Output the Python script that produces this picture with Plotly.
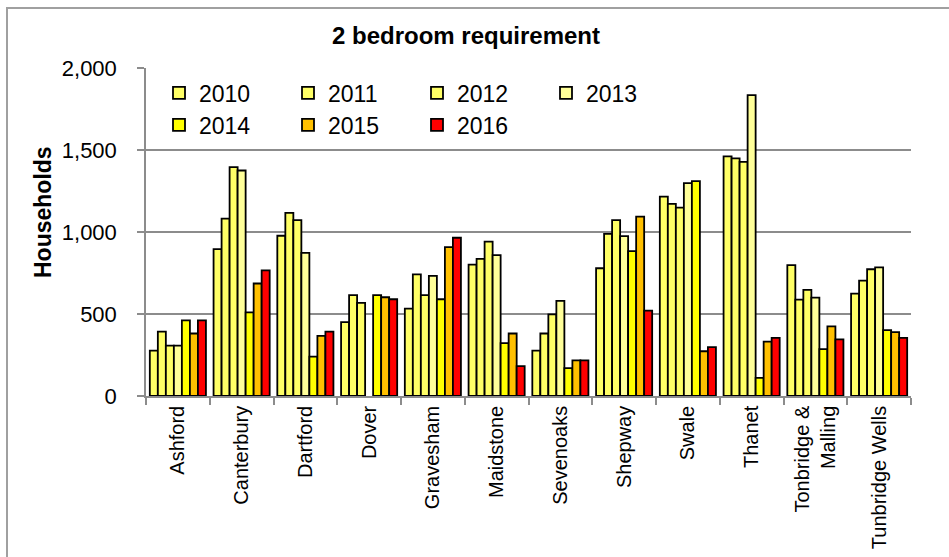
import plotly.graph_objects as go

districts = ["Ashford", "Canterbury", "Dartford", "Dover", "Gravesham", "Maidstone",
             "Sevenoaks", "Shepway", "Swale", "Thanet", "Tonbridge &<br>Malling",
             "Tunbridge Wells"]

y2010 = [277, 895, 977, 451, 533, 801, 277, 779, 1216, 1461, 798, 624]
y2011 = [393, 1082, 1117, 615, 742, 836, 381, 988, 1171, 1449, 588, 704]
y2012 = [307, 1395, 1072, 568, 615, 941, 498, 1072, 1149, 1427, 647, 773]
y2013 = [307, 1375, 873, None, 732, 859, 580, 975, 1298, 1835, 600, 784]
y2014 = [461, 510, 240, 615, 590, 322, 170, 883, 1310, 110, 286, 402]
y2015 = [381, 686, 367, 602, 908, 381, 217, 1094, 273, 331, 424, 390]
y2016 = [461, 766, 393, 590, 965, 182, 217, 520, 298, 355, 345, 355]

years = ["2010", "2011", "2012", "2013", "2014", "2015", "2016"]
series = [y2010, y2011, y2012, y2013, y2014, y2015, y2016]
colors = ["#FFFF66", "#FFFF66", "#FFFF66", "#FFFF99", "#FFFF00", "#FFC000", "#FF0000"]

FONT = "Liberation Sans, Arial, sans-serif"
GRID = "#8c8c8c"

fig = go.Figure()
for i, (yr, vals, col) in enumerate(zip(years, series, colors)):
    fig.add_trace(go.Bar(
        x=districts, y=vals, name=yr,
        marker=dict(color=col, line=dict(color="black", width=1.8)),
        legend="legend" if i < 4 else "legend2",
    ))

L, R, T, B = 146, 38, 68, 161
W, H = 949, 557
pw, ph = W - L - R, H - T - B

def px_x(x):
    return (x - L) / pw

def px_y(y):
    return (H - B - y) / ph

legend_common = dict(
    orientation="h", xanchor="left", yanchor="middle",
    font=dict(family=FONT, size=23, color="black"),
    bgcolor="rgba(0,0,0,0)", entrywidth=84, traceorder="normal",
    itemclick=False,
)

fig.update_layout(
    width=W, height=H,
    margin=dict(l=L, r=R, t=T, b=B),
    paper_bgcolor="white", plot_bgcolor="white",
    barmode="group", bargap=0.12, bargroupgap=0,
    font=dict(family=FONT, color="black"),
    title=dict(text="<b>2 bedroom requirement</b>", x=466 / W, xref="container",
               xanchor="center", y=1 - 36 / H, yref="container", yanchor="middle",
               font=dict(family=FONT, size=24, color="black")),
    legend=dict(x=px_x(159), y=px_y(93), **legend_common),
    legend2=dict(x=px_x(159), y=px_y(125), **legend_common),
    xaxis=dict(
        type="category", showline=True, linecolor=GRID, linewidth=1.5,
        ticks="outside", tickson="boundaries", ticklen=7, tickcolor=GRID,
        tickwidth=1.5, tickangle=-90, automargin=False,
        tickfont=dict(family=FONT, size=20, color="black"),
        showgrid=False,
    ),
    yaxis=dict(
        range=[0, 2000], dtick=500, tickformat=",", automargin=False,
        showline=True, linecolor=GRID, linewidth=1.5,
        ticks="outside", ticklen=7, tickcolor=GRID, tickwidth=1.5,
        showgrid=True, gridcolor=GRID, gridwidth=1.5,
        tickfont=dict(family=FONT, size=22, color="black"),
        ticklabelstandoff=16, zeroline=False,
    ),
    shapes=[dict(type="rect", xref="paper", yref="paper",
                 x0=px_x(7), x1=px_x(965), y0=px_y(575), y1=px_y(8),
                 line=dict(color="#a0a0a0", width=2), fillcolor="rgba(0,0,0,0)",
                 layer="below")],
    annotations=[dict(text="<b>Households</b>", textangle=-90, xref="paper", yref="paper",
                      x=px_x(43), y=px_y(212), xanchor="center", yanchor="middle",
                      showarrow=False, font=dict(family=FONT, size=23, color="black"))],
)

fig.write_html("out.html", config={"displayModeBar": False},
               post_script="document.body.style.margin='0';document.body.style.padding='0';")
